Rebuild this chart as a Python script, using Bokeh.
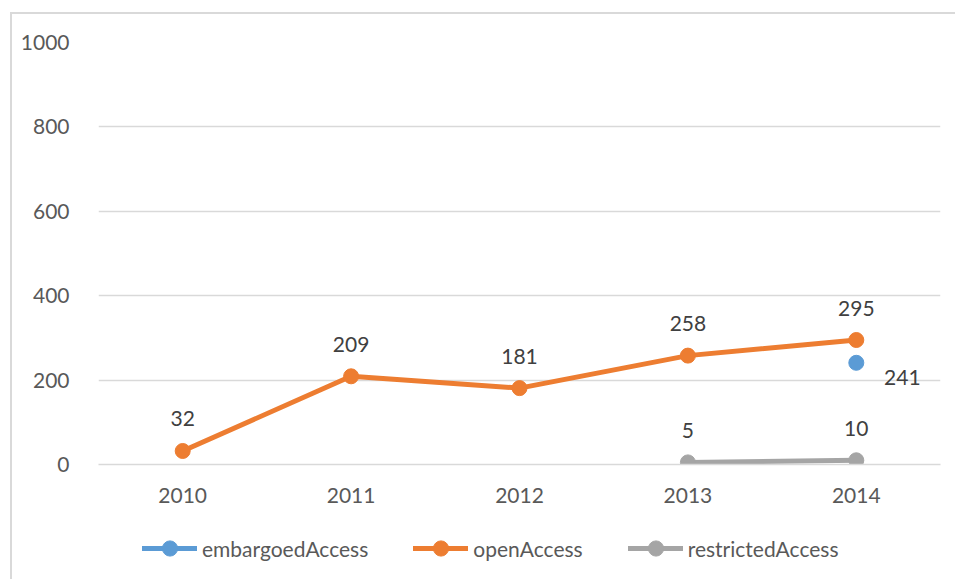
import math
from bokeh.plotting import figure
from bokeh.layouts import column
from bokeh.models import (ColumnDataSource, Range1d, FactorRange, LabelSet,
                          Legend, LegendItem)
from bokeh.core.properties import value
from bokeh.embed import file_html
from bokeh.resources import INLINE

# ---- data ----
years = ["2010", "2011", "2012", "2013", "2014"]
embargoed = [float("nan"), float("nan"), float("nan"), float("nan"), 241]
open_access = [32, 209, 181, 258, 295]
restricted = [float("nan"), float("nan"), float("nan"), 5, 10]
series_names = ["embargoedAccess", "openAccess", "restrictedAccess"]
y_ticks = [0, 200, 400, 600, 800, 1000]

colors = ["#5B9BD5", "#ED7D31", "#A5A5A5"]
FONT = "Lato"

p = figure(x_range=FactorRange(*years, range_padding=0),
           y_range=Range1d(0, 1000),
           width=943, height=506,
           output_backend="svg", toolbar_location=None,
           min_border_left=86, min_border_right=15,
           min_border_top=28, min_border_bottom=56)
p.outline_line_color = None
p.background_fill_color = "white"
p.border_fill_color = "white"

# grid
p.xgrid.grid_line_color = None
p.ygrid.grid_line_color = "#d9d9d9"
p.ygrid.grid_line_width = 1.5
p.yaxis.ticker = y_ticks

# axes
for ax in (p.xaxis, p.yaxis):
    ax.major_tick_line_color = None
    ax.minor_tick_line_color = None
    ax.major_label_text_font = FONT
    ax.major_label_text_font_size = "21px"
    ax.major_label_text_color = "#595959"
p.yaxis.axis_line_color = None
p.xaxis.axis_line_color = "#d9d9d9"
p.xaxis.axis_line_width = 1.5
p.yaxis.major_label_standoff = 23
p.xaxis.major_label_standoff = 17

# legend strip (separate small figure holding only the legend)
lf = figure(width=943, height=59, x_range=Range1d(0, 1), y_range=Range1d(0, 1),
            output_backend="svg", toolbar_location=None,
            min_border_left=0, min_border_right=0,
            min_border_top=0, min_border_bottom=0)
lf.axis.visible = False
lf.grid.visible = False
lf.outline_line_color = None
lf.border_fill_color = "white"

items = []
all_series = [embargoed, open_access, restricted]
for name, vals, c in zip(series_names, all_series, colors):
    src = ColumnDataSource(dict(x=years, y=vals))
    p.line("x", "y", source=src, line_color=c, line_width=5,
           line_join="round", line_cap="round")
    p.scatter("x", "y", source=src, marker="circle", size=15,
              fill_color=c, line_color=c)

    # legend proxies (nothing drawn: NaN point) in the legend strip
    esrc = ColumnDataSource(dict(x=[float("nan")], y=[float("nan")]))
    ln = lf.line("x", "y", source=esrc, line_color=c, line_width=5,
                 line_cap="round")
    sc = lf.scatter("x", "y", source=esrc, marker="circle", size=15,
                    fill_color=c, line_color=c)
    items.append(LegendItem(label=name, renderers=[ln, sc]))

    # data labels
    lx = [x for x, v in zip(years, vals) if not math.isnan(v)]
    lv = [v for v in vals if not math.isnan(v)]
    lsrc = ColumnDataSource(dict(x=lx, y=lv, t=[str(int(v)) for v in lv]))
    if name == "embargoedAccess":
        xo, yo = 46, -15
    else:
        xo, yo = 0, 32
    p.add_layout(LabelSet(x="x", y="y", text="t", source=lsrc,
                          x_offset=xo, y_offset=yo,
                          text_align="center", text_baseline="middle",
                          text_font=value(FONT), text_font_size=value("21px"),
                          text_color=value("#404040")))

legend = Legend(items=items, orientation="horizontal",
                location=(44, 12),
                glyph_width=55, glyph_height=38, label_standoff=5,
                spacing=45, padding=0, margin=0,
                label_text_font=FONT, label_text_font_size="21px",
                label_text_color="#595959",
                border_line_color=None, background_fill_alpha=0)
lf.add_layout(legend, "center")

layout = column(p, lf, spacing=0)
layout.margin = (12, 0, 0, 10)
layout.styles = {"border-top": "2px solid #d9d9d9", "border-left": "2px solid #d9d9d9"}

open("out.html", "w").write(file_html(layout, INLINE))
